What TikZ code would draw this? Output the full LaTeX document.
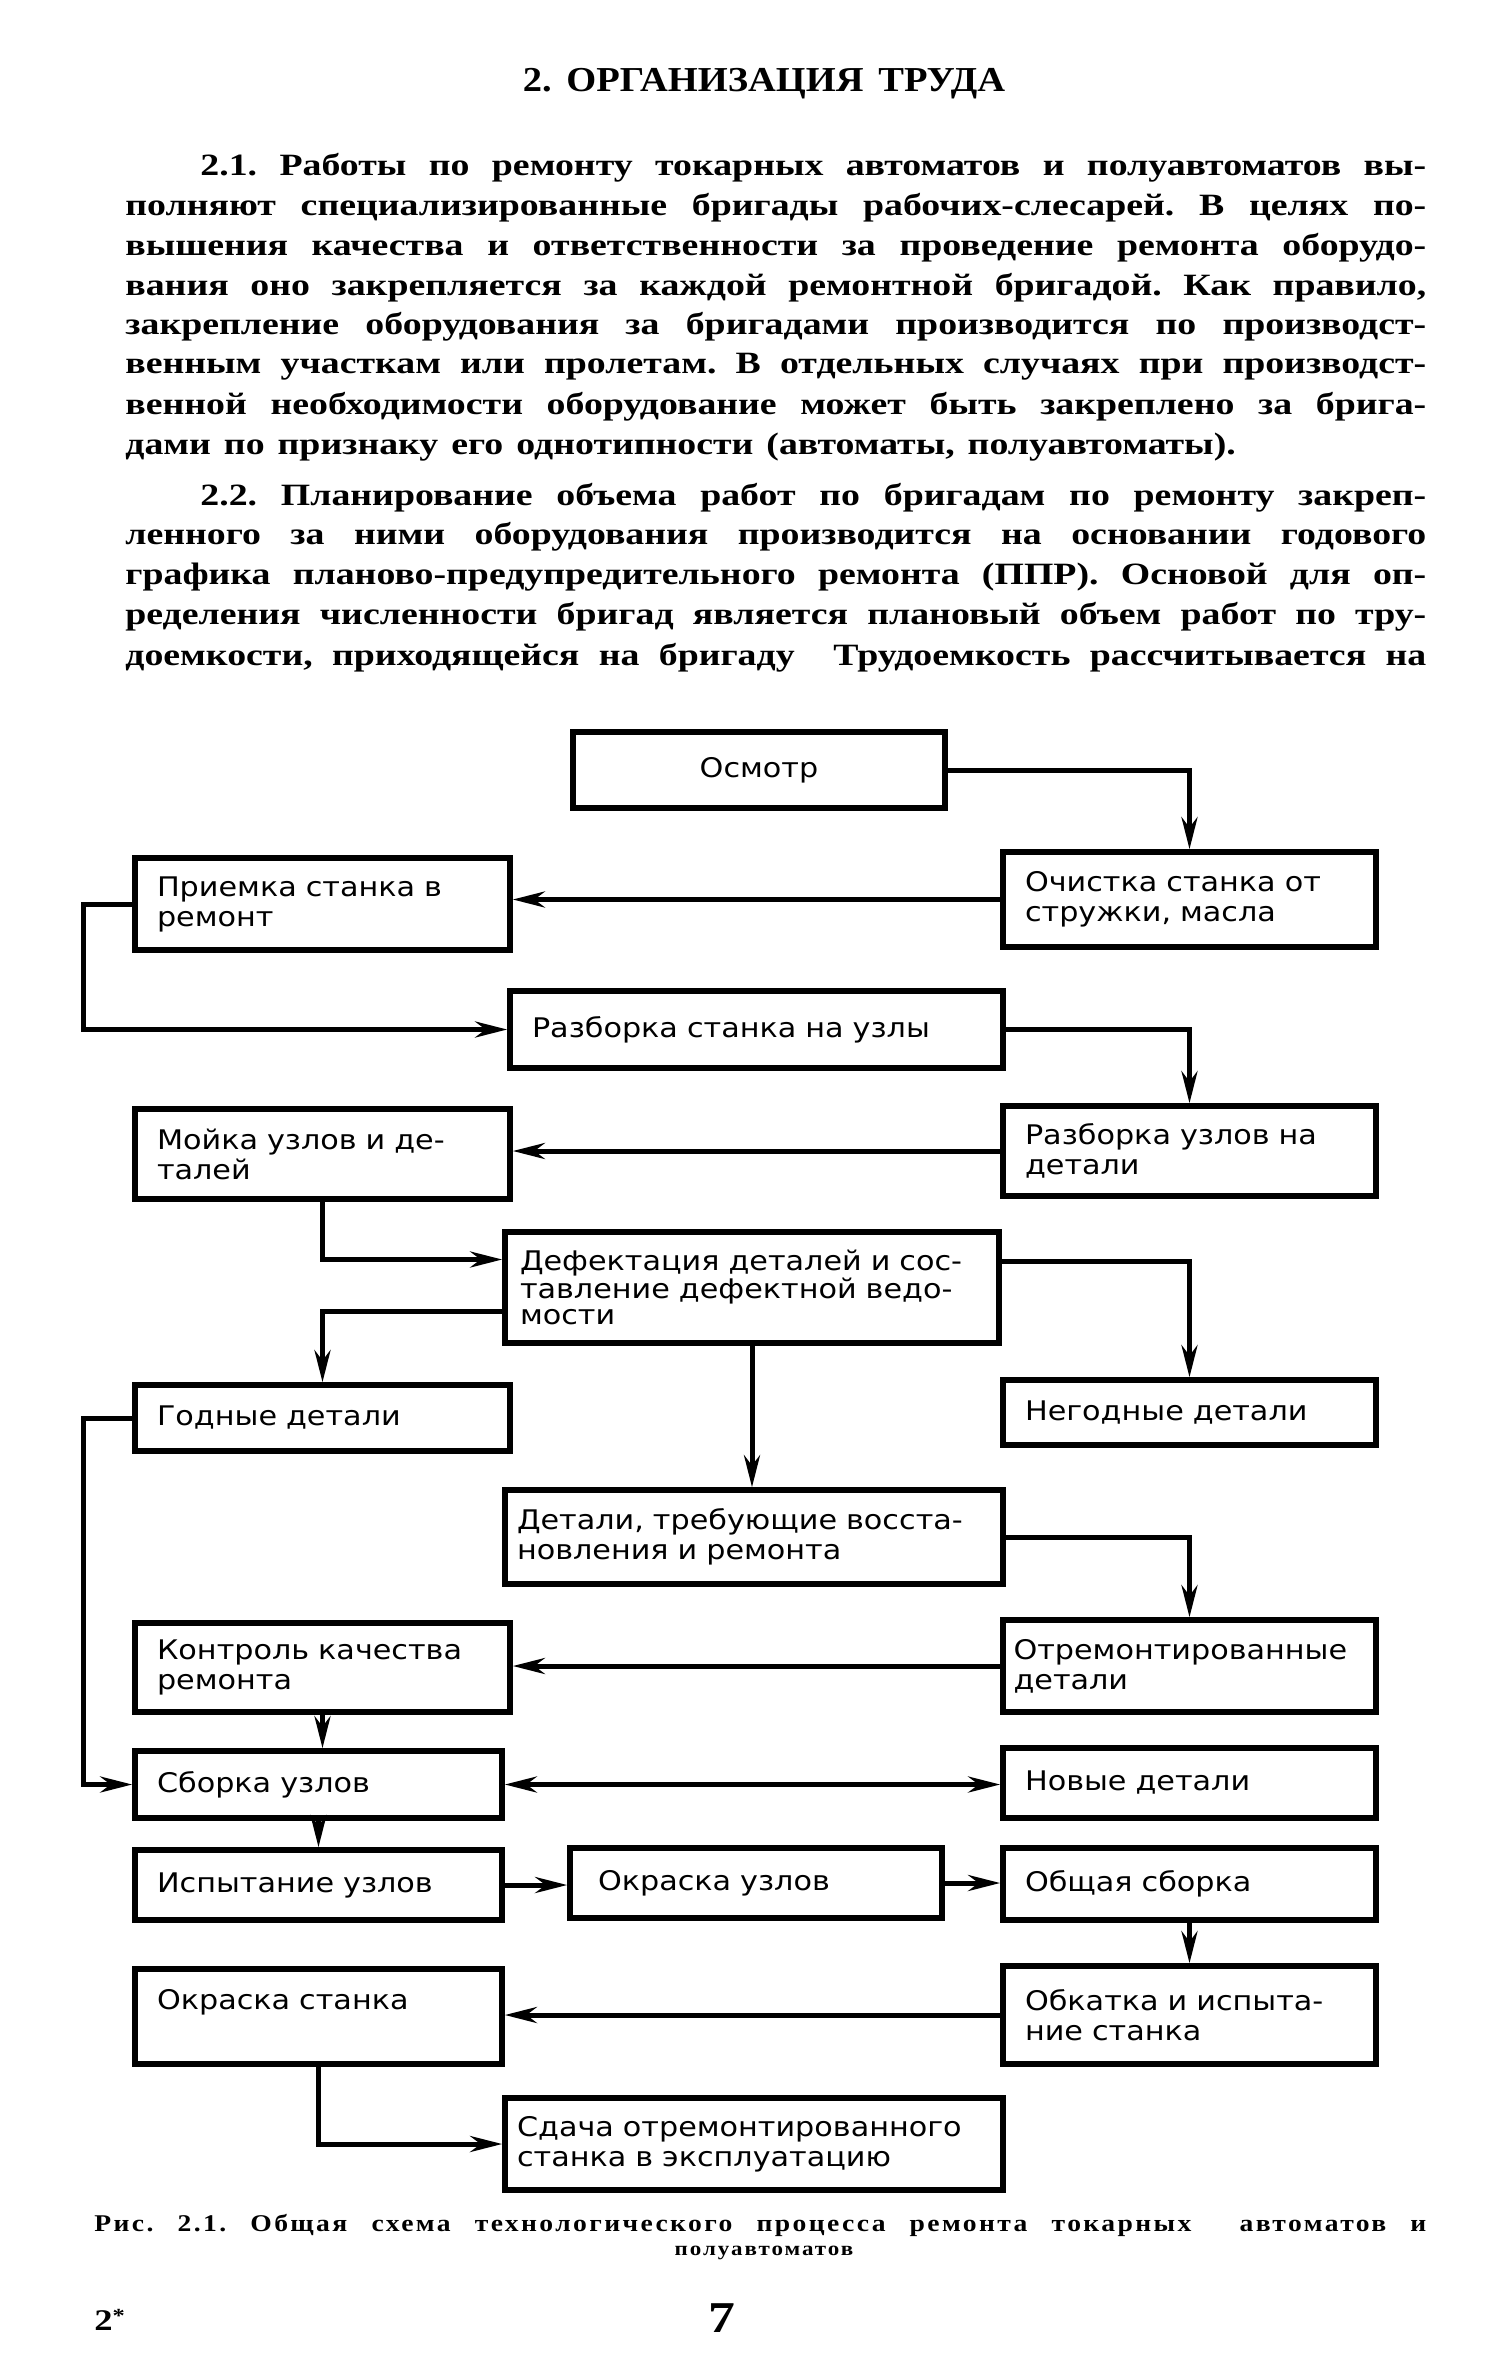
\documentclass[tikz,border=0pt]{standalone}
\usepackage{fontspec}
\setmainfont{Liberation Serif}
\newfontfamily\bodyf[FakeStretch=1.22]{Liberation Serif}
\newfontfamily\titf[FakeStretch=1.1]{Liberation Serif}
\newfontfamily\capf[FakeStretch=1.15,LetterSpace=10]{Liberation Serif}
\newfontfamily\boxf[FakeStretch=1.12]{DejaVu Sans}
\usetikzlibrary{arrows.meta}
\frenchspacing
\newcommand\widesp{\spaceskip=0.42em plus 1em minus 0.05em\relax}
\newcommand\fullline[4]{\node[body] (#1) at (#2) {\widesp\makebox[#3][s]{#4}};}
\newcommand\mkbox[7][]{%
  \pgfmathsetmacro\bxw{(#5-#3)*0.5}%
  \pgfmathsetmacro\bxh{(#6-#4)*0.5}%
  \pgfmathsetmacro\bxt{(#5-#3)*0.5-22}%
  \node[box, minimum width=\bxw pt, minimum height=\bxh pt, text width=\bxt pt, #1] (#2) at ({(#3+#5)/2},{(#4+#6)/2}) {#7};}
\begin{document}
\begin{tikzpicture}[x=0.5pt,y=-0.5pt,
  body/.style={anchor=base west, inner sep=0pt, font=\bodyf\bfseries\fontsize{15.5pt}{18pt}\selectfont},
  box/.style={draw, line width=2.8pt, inner xsep=11pt, inner ysep=0pt, align=left,
    font=\boxf\fontsize{13.5pt}{15pt}\selectfont},
  arr/.style={line width=2.5pt, -{Stealth[length=16pt,width=8pt]}}]
\useasboundingbox (0,0) rectangle (1489,2366);
\fill[white] (0,0) rectangle (1489,2366);
% title
\node[anchor=base, inner sep=0pt, font=\titf\bfseries\fontsize{17.5pt}{20pt}\selectfont] (title) at (764,91) {\widesp 2. ОРГАНИЗАЦИЯ ТРУДА};
% paragraph 2.1
\fullline{p1}{200,175}{613pt}{2.1. Работы по ремонту токарных автоматов и полуавтоматов вы-}
\fullline{p2}{125,215}{650.5pt}{полняют специализированные бригады рабочих-слесарей. В целях по-}
\fullline{p3}{125,255}{650.5pt}{вышения качества и ответственности за проведение ремонта оборудо-}
\fullline{p4}{125,295}{650.5pt}{вания оно закрепляется за каждой ремонтной бригадой. Как правило,}
\fullline{p5}{125,334}{650.5pt}{закрепление оборудования за бригадами производится по производст-}
\fullline{p6}{125,373}{650.5pt}{венным участкам или пролетам. В отдельных случаях при производст-}
\fullline{p7}{125,414}{650.5pt}{венной необходимости оборудование может быть закреплено за брига-}
\node[body] (p8) at (125,454) {\widesp дами по признаку его однотипности (автоматы, полуавтоматы).};
% paragraph 2.2
\fullline{p9}{200,505}{613pt}{2.2. Планирование объема работ по бригадам по ремонту закреп-}
\fullline{p10}{125,544}{650.5pt}{ленного за ними оборудования производится на основании годового}
\fullline{p11}{125,584}{650.5pt}{графика планово-предупредительного ремонта (ППР). Основой для оп-}
\fullline{p12}{125,624}{650.5pt}{ределения численности бригад является плановый объем работ по тру-}
\fullline{p13}{125,665}{650.5pt}{доемкости, приходящейся на бригаду \ Трудоемкость рассчитывается на}
% boxes
\mkbox[align=center]{osm}{573}{732}{945}{808}{Осмотр}
\mkbox{pri}{135}{858}{510}{950}{Приемка станка в\\ремонт}
\mkbox{och}{1003}{852}{1376}{947}{Очистка станка от\\стружки, масла}
\mkbox{raz1}{510}{991}{1003}{1068}{Разборка станка на узлы}
\mkbox{moy}{135}{1109}{510}{1199}{Мойка узлов и де-\\талей}
\mkbox{raz2}{1003}{1106}{1376}{1196}{Разборка узлов на\\детали}
\mkbox[text width=232pt, inner xsep=7pt, font=\boxf\fontsize{13.5pt}{13pt}\selectfont]{def}{505}{1232}{999}{1343}{Дефектация деталей и сос-\\тавление дефектной ведо-\\мости}
\mkbox{god}{135}{1385}{510}{1451}{Годные детали}
\mkbox{neg}{1003}{1380}{1376}{1445}{Негодные детали}
\mkbox[text width=237pt, inner xsep=6pt]{det}{505}{1490}{1003}{1584}{Детали, требующие восста-\\новления и ремонта}
\mkbox{kon}{135}{1623}{510}{1712}{Контроль качества\\ремонта}
\mkbox[text width=176pt, inner xsep=5pt]{otr}{1003}{1620}{1376}{1712}{Отремонтированные\\детали}
\mkbox{sbo}{135}{1751}{502}{1818}{Сборка узлов}
\mkbox{nov}{1003}{1748}{1376}{1818}{Новые детали}
\mkbox{isp}{135}{1850}{502}{1920}{Испытание узлов}
\mkbox[text width=158pt, inner xsep=14pt]{okr}{570}{1848}{942}{1918}{Окраска узлов}
\mkbox{obs}{1003}{1848}{1376}{1920}{Общая сборка}
\mkbox[text depth=17pt]{okst}{135}{1969}{502}{2064}{Окраска станка}
\mkbox{obk}{1003}{1966}{1376}{2064}{Обкатка и испыта-\\ние станка}
\mkbox[text width=237pt, inner xsep=6pt]{sda}{505}{2098}{1003}{2190}{Сдача отремонтированного\\станка в эксплуатацию}
% left bus coordinate
\coordinate (L) at (83,1000);
% connectors
\draw[arr] (osm.east) -| (och.north);
\draw[arr] (och.west) -- (och.west -| pri.east);
\draw[arr] (pri.west) -- (pri.west -| L) |- (raz1.west);
\draw[arr] (raz1.east) -| (raz2.north);
\draw[arr] (raz2.west) -- (raz2.west -| moy.east);
\draw[arr] (moy.south) |- ([yshift=14pt]def.west);
\draw[arr] ([yshift=13pt]def.east) -| (neg.north);
\draw[arr] ([yshift=-12pt]def.west) -| (god.north);
\draw[arr] (def.south) -- (def.south |- det.north);
\draw[arr] (det.east) -| (otr.north);
\draw[arr] (otr.west) -- (otr.west -| kon.east);
\draw[arr] (kon.south) -- (kon.south |- sbo.north);
\draw[arr] (god.west) -- (god.west -| L) |- (sbo.west);
\draw[line width=2.5pt, {Stealth[length=16pt,width=8pt]}-{Stealth[length=16pt,width=8pt]}] (sbo.east) -- (sbo.east -| nov.west);
\draw[arr] (sbo.south) -- (sbo.south |- isp.north);
\draw[arr] (isp.east) -- (isp.east -| okr.west);
\draw[arr] (okr.east) -- (okr.east -| obs.west);
\draw[arr] (obs.south) -- (obs.south |- obk.north);
\draw[arr] (obk.west) -- (obk.west -| okst.east);
\draw[arr] (okst.south) |- (sda.west);
% caption
\node[anchor=base west, inner sep=0pt, font=\capf\bfseries\fontsize{12pt}{13pt}\selectfont] (cap1) at (94,2231) {\widesp\makebox[666pt][s]{Рис. 2.1. Общая схема технологического процесса ремонта токарных \ автоматов и}};
\node[anchor=base, inner sep=0pt, font=\capf\bfseries\fontsize{10pt}{12pt}\selectfont] (cap2) at (764,2255) {полуавтоматов};
% page foot
\node[anchor=base west, inner sep=0pt, font=\bodyf\bfseries\fontsize{15pt}{18pt}\selectfont] (sig) at (94,2330) {2\raisebox{4pt}{\fontsize{10pt}{10pt}\selectfont*}};
\node[anchor=base, inner sep=0pt, font=\bodyf\bfseries\fontsize{22pt}{24pt}\selectfont] (pg) at (722,2332) {7};
\end{tikzpicture}
\end{document}
